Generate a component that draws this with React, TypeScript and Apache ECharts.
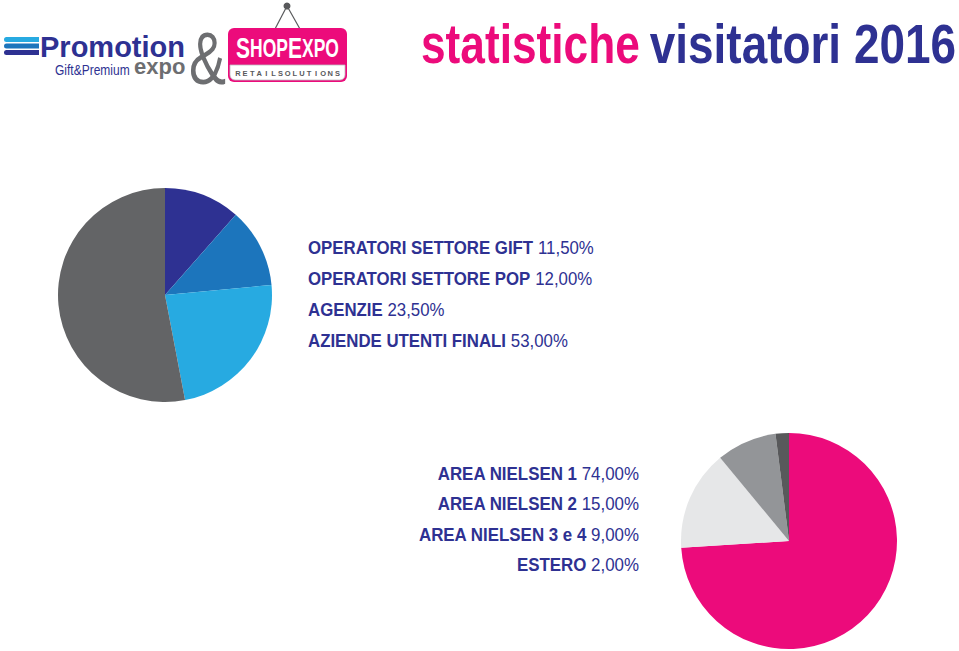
import React, { useEffect, useRef } from "react";
import * as echarts from "echarts";

const sectorCategories = [
  "OPERATORI SETTORE GIFT",
  "OPERATORI SETTORE POP",
  "AGENZIE",
  "AZIENDE UTENTI FINALI",
];
const sectorValues = [11.5, 12.0, 23.5, 53.0];
const sectorColors = ["#2e3192", "#1c75bc", "#27aae1", "#636466"];

const areaCategories = ["AREA NIELSEN 1", "AREA NIELSEN 2", "AREA NIELSEN 3 e 4", "ESTERO"];
const areaValues = [74.0, 15.0, 9.0, 2.0];
const areaColors = ["#ec0b7b", "#e6e7e8", "#939598", "#58595b"];

const titleLeft = "statistiche";
const titleRight = "visitatori 2016";

const NAVY = "#2e3192";
const PINK = "#ec0b7b";
const FONT = '"Liberation Sans", Arial, sans-serif';

const fmt = (v: number) => v.toFixed(2).replace(".", ",") + "%";

export default function App() {
  const ref = useRef<HTMLDivElement>(null);
  useEffect(() => {
    if (!ref.current) return;
    const chart = echarts.init(ref.current, undefined, { renderer: "svg" });

    const richLegend = (size: number) => ({
      b: { fontFamily: FONT, fontWeight: "bold", fontSize: size, fill: NAVY, color: NAVY },
      n: { fontFamily: FONT, fontWeight: "normal", fontSize: size, fill: NAVY, color: NAVY },
    });

    const legend1 = sectorCategories.map((c, i) => ({
      type: "text",
      x: 308,
      y: 257 + i * 30.8,
      scaleX: 0.935,
      style: {
        text: `{b|${c}}{n| ${fmt(sectorValues[i])}}`,
        textVerticalAlign: "bottom",
        verticalAlign: "bottom",
        rich: richLegend(18),
      },
    }));
    const legend2 = areaCategories.map((c, i) => ({
      type: "text",
      x: 639,
      y: 483 + i * 30.5,
      scaleX: 0.89,
      style: {
        text: `{b|${c}}{n| ${fmt(areaValues[i])}}`,
        align: "right",
        textAlign: "right",
        verticalAlign: "bottom",
        textVerticalAlign: "bottom",
        rich: richLegend(19),
      },
    }));

    const retail = "RETAILSOLUTIONS".split("").map((ch, i) => ({
      type: "text",
      x: 238 + i * 7.1,
      y: 77,
      style: {
        text: ch,
        fontFamily: FONT,
        fontWeight: "bold",
        fontSize: 7.5,
        fill: "#58595b",
        textAlign: "center",
        textVerticalAlign: "bottom",
      },
    }));

    chart.setOption({
      animation: false,
      backgroundColor: "#ffffff",
      series: [
        {
          type: "pie",
          center: [165, 295],
          radius: [0, 107],
          startAngle: 90,
          clockwise: true,
          label: { show: false },
          labelLine: { show: false },
          silent: true,
          data: sectorCategories.map((n, i) => ({
            name: n,
            value: sectorValues[i],
            itemStyle: { color: sectorColors[i] },
          })),
        },
        {
          type: "pie",
          center: [789, 541],
          radius: [0, 108],
          startAngle: 90,
          clockwise: true,
          label: { show: false },
          labelLine: { show: false },
          silent: true,
          data: areaCategories.map((n, i) => ({
            name: n,
            value: areaValues[i],
            itemStyle: { color: areaColors[i] },
          })),
        },
      ],
      graphic: [
        // title
        {
          type: "text",
          x: 421,
          y: 72,
          scaleX: 0.79,
          style: {
            text: titleLeft,
            fontFamily: FONT,
            fontWeight: "bold",
            fontSize: 56,
            fill: PINK,
            textVerticalAlign: "bottom",
          },
        },
        {
          type: "text",
          x: 956,
          y: 72,
          scaleX: 0.82,
          style: {
            text: titleRight,
            fontFamily: FONT,
            fontWeight: "bold",
            fontSize: 56,
            fill: NAVY,
            textAlign: "right",
            textVerticalAlign: "bottom",
          },
        },
        // logo bars
        { type: "rect", shape: { x: 4, y: 37, width: 35, height: 5, r: [2.5, 0, 0, 2.5] }, style: { fill: "#27aae1" } },
        { type: "rect", shape: { x: 4, y: 43.5, width: 35, height: 5, r: [2.5, 0, 0, 2.5] }, style: { fill: "#1c75bc" } },
        { type: "rect", shape: { x: 4, y: 50, width: 35, height: 5, r: [2.5, 0, 0, 2.5] }, style: { fill: NAVY } },
        {
          type: "text",
          x: 40,
          y: 46.5,
          style: { text: "Promotion", fontFamily: FONT, fontWeight: "bold", fontSize: 29, lineHeight: 19, fill: NAVY, textVerticalAlign: "middle", verticalAlign: "middle" },
        },
        {
          type: "text",
          x: 55,
          y: 78,
          scaleX: 0.8,
          style: { text: "Gift&Premium", fontFamily: FONT, fontWeight: "normal", fontSize: 15, fill: NAVY, textVerticalAlign: "bottom" },
        },
        {
          type: "text",
          x: 134,
          y: 66,
          style: { text: "expo", fontFamily: FONT, fontWeight: "bold", fontSize: 22, lineHeight: 12, fill: "#6d6e71", textVerticalAlign: "middle", verticalAlign: "middle" },
        },
        {
          type: "text",
          x: 189,
          y: 96,
          scaleX: 0.75,
          style: { text: "&", fontFamily: FONT, fontWeight: "normal", fontSize: 74, fill: "#6d6e71", textVerticalAlign: "bottom" },
        },
        // hanger
        { type: "line", shape: { x1: 287, y1: 6, x2: 275, y2: 29 }, style: { stroke: "#58595b", lineWidth: 1.2 } },
        { type: "line", shape: { x1: 287, y1: 6, x2: 300, y2: 29 }, style: { stroke: "#58595b", lineWidth: 1.2 } },
        { type: "circle", shape: { cx: 287, cy: 6, r: 3.5 }, style: { fill: "#58595b" } },
        // shop expo sign
        { type: "rect", shape: { x: 228, y: 28, width: 119, height: 54, r: 6 }, style: { fill: PINK } },
        { type: "rect", shape: { x: 230, y: 65, width: 115, height: 15, r: [0, 0, 5, 5] }, style: { fill: "#ffffff", stroke: "#bcbec0", lineWidth: 0.8 } },
        {
          type: "text",
          x: 287.5,
          y: 63,
          scaleX: 0.7,
          style: {
            text: "{L|S}{s|HOP}{L|E}{s|XPO}",
            textAlign: "center",
            align: "center",
            textVerticalAlign: "bottom",
            verticalAlign: "bottom",
            rich: {
              L: { fontFamily: FONT, fontWeight: "bold", fontSize: 30, fill: "#ffffff", color: "#ffffff" },
              s: { fontFamily: FONT, fontWeight: "bold", fontSize: 25, fill: "#ffffff", color: "#ffffff" },
            },
          },
        },
        ...retail,
        ...legend1,
        ...legend2,
      ],
    });
    return () => chart.dispose();
  }, []);
  return (
    <div
      ref={ref}
      style={{ position: "fixed", left: 0, top: 0, width: 959, height: 651 }}
    />
  );
}
